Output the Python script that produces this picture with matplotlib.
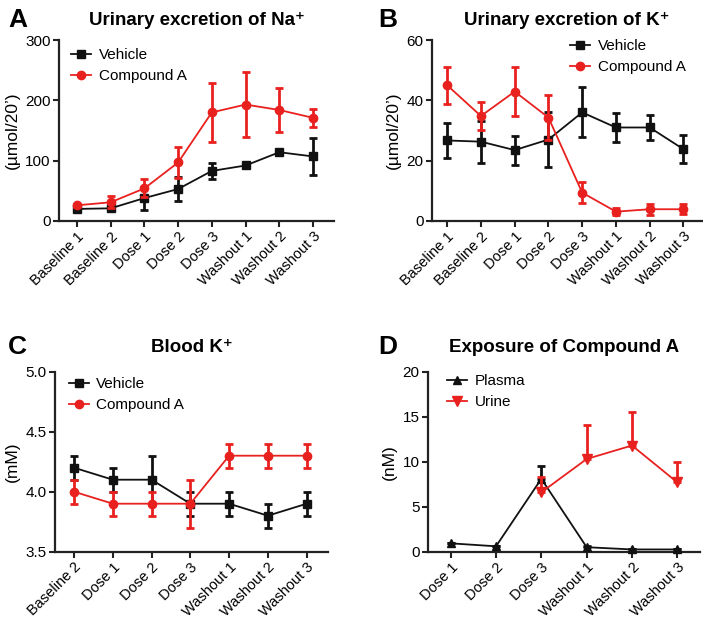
import numpy as np
import matplotlib
matplotlib.use("Agg")
import matplotlib.pyplot as plt
from matplotlib.lines import Line2D

plt.rcParams['font.family'] = ['Liberation Sans', 'DejaVu Sans']

# ---- data ----
cats_ab = ["Baseline 1", "Baseline 2", "Dose 1", "Dose 2", "Dose 3",
           "Washout 1", "Washout 2", "Washout 3"]
cats_c = ["Baseline 2", "Dose 1", "Dose 2", "Dose 3",
          "Washout 1", "Washout 2", "Washout 3"]
cats_d = ["Dose 1", "Dose 2", "Dose 3", "Washout 1", "Washout 2", "Washout 3"]

na_vehicle = [20, 21, 38, 53, 83, 92, 114, 107]
na_vehicle_err = [3, 3, 19, 20, 13, 4, 5, 30]
na_compound = [26, 31, 54, 97, 180, 193, 184, 171]
na_compound_err = [3, 10, 15, 26, 49, 54, 37, 15]

k_vehicle = [26.7, 26.3, 23.5, 27.0, 36.0, 31.0, 31.0, 23.8]
k_vehicle_err = [5.7, 7.0, 4.8, 9.0, 8.3, 4.8, 4.2, 4.6]
k_compound = [45.0, 34.8, 42.9, 34.3, 9.4, 3.1, 3.9, 3.9]
k_compound_err = [6.2, 4.5, 8.2, 7.6, 3.5, 1.1, 1.9, 1.7]

bk_vehicle = [4.2, 4.1, 4.1, 3.9, 3.9, 3.8, 3.9]
bk_vehicle_err = [0.1, 0.1, 0.2, 0.1, 0.1, 0.1, 0.1]
bk_compound = [4.0, 3.9, 3.9, 3.9, 4.3, 4.3, 4.3]
bk_compound_err = [0.1, 0.1, 0.1, 0.2, 0.1, 0.1, 0.1]

plasma = [0.93, 0.6, 8.1, 0.5, 0.25, 0.25]
plasma_err = [0.0, 0.0, 1.4, 0.15, 0.0, 0.0]
urine = [np.nan, np.nan, 6.6, 10.3, 11.8, 7.7]
urine_err = [np.nan, np.nan, 1.7, 3.8, 3.7, 2.3]

RED = '#e8211f'
BLACK = '#111111'
H = 621.0
W = 703.0

fig = plt.figure(figsize=(7.03, 6.21), dpi=100)

def style(ax, cats, xlim, ylim, yticks, yticklabels, ylabel):
    ax.set_xlim(*xlim)
    ax.set_ylim(*ylim)
    ax.set_yticks(yticks)
    ax.set_yticklabels(yticklabels, fontsize=11)
    ax.set_xticks(range(len(cats)))
    ax.set_xticklabels(cats, rotation=45, ha='right', rotation_mode='anchor',
                       fontsize=10.5)
    for s in ['top', 'right']:
        ax.spines[s].set_visible(False)
    for s in ['left', 'bottom']:
        ax.spines[s].set_linewidth(1.6)
        ax.spines[s].set_color('#222222')
    ax.tick_params(width=1.5, length=4, color='#222222', pad=2)
    ax.set_ylabel(ylabel, fontsize=12.5, labelpad=4)

def eb(ax, x, y, e, color, marker, ms, z, upper_only=False):
    if upper_only:
        e = np.asarray(e, dtype=float)
        yerr = [np.zeros_like(e), e]
    else:
        yerr = e
    ax.errorbar(x, y, yerr=yerr, color=color, marker=marker, ms=ms, lw=1.3,
                elinewidth=2.0, capsize=3, capthick=2.0, zorder=z,
                clip_on=False)

def legend(ax, entries, loc, anchor):
    handles = [Line2D([], [], color=c, marker=m, ms=ms, lw=1.3, label=l)
               for (l, c, m, ms) in entries]
    ax.legend(handles=handles, loc=loc, bbox_to_anchor=anchor, frameon=False,
              fontsize=11, handlelength=1.3, handletextpad=0.5,
              borderpad=0, borderaxespad=0, labelspacing=0.45)

def title(ax, text, letter, letter_x, base_px):
    pos = ax.get_position()
    cx = (pos.x0 + pos.x1) / 2
    fig.text(cx, 1 - base_px / H, text, fontsize=13.5, fontweight='bold',
             ha='center', va='baseline')
    fig.text(letter_x / W, 1 - (base_px + 2) / H, letter, fontsize=19,
             fontweight='bold', ha='left', va='baseline')

veh_comp = [('Vehicle', BLACK, 's', 6), ('Compound A', RED, 'o', 6)]

# ---- Panel A ----
axA = fig.add_axes([59 / W, 1 - 221 / H, 275 / W, 181 / H])
x = np.arange(len(cats_ab))
eb(axA, x, na_vehicle, na_vehicle_err, BLACK, 's', 6, 3)
eb(axA, x, na_compound, na_compound_err, RED, 'o', 6, 4)
style(axA, cats_ab, (-0.53, 7.62), (0, 300), [0, 100, 200, 300],
      ['0', '100', '200', '300'], "(µmol/20’)")
legend(axA, veh_comp, 'upper left', (0.045, 0.955))
title(axA, "Urinary excretion of Na⁺", "A", 8, 25)

# ---- Panel B ----
axB = fig.add_axes([432 / W, 1 - 221 / H, 270 / W, 181 / H])
eb(axB, x, k_vehicle, k_vehicle_err, BLACK, 's', 6, 3)
eb(axB, x, k_compound, k_compound_err, RED, 'o', 6, 4)
style(axB, cats_ab, (-0.45, 7.55), (0, 60), [0, 20, 40, 60],
      ['0', '20', '40', '60'], "(µmol/20’)")
legend(axB, veh_comp, 'upper right', (0.94, 1.005))
title(axB, "Urinary excretion of K⁺", "B", 378, 25)

# ---- Panel C ----
axC = fig.add_axes([55 / W, 1 - 551.7 / H, 273 / W, 180 / H])
xc = np.arange(len(cats_c))
eb(axC, xc, bk_vehicle, bk_vehicle_err, BLACK, 's', 6, 3)
eb(axC, xc, bk_compound, bk_compound_err, RED, 'o', 6, 4)
style(axC, cats_c, (-0.49, 6.55), (3.5, 5.0), [3.5, 4.0, 4.5, 5.0],
      ['3.5', '4.0', '4.5', '5.0'], "(mM)")
legend(axC, veh_comp, 'upper left', (0.05, 0.97))
title(axC, "Blood K⁺", "C", 8, 351.7)

# ---- Panel D ----
axD = fig.add_axes([428 / W, 1 - 551.7 / H, 272 / W, 180 / H])
xd = np.arange(len(cats_d))
eb(axD, xd, plasma, plasma_err, BLACK, '^', 6, 3, upper_only=True)
eb(axD, xd, urine, urine_err, RED, 'v', 7, 4, upper_only=True)
style(axD, cats_d, (-0.5, 5.5), (0, 20), [0, 5, 10, 15, 20],
      ['0', '5', '10', '15', '20'], "(nM)")
legend(axD, [('Plasma', BLACK, '^', 6), ('Urine', RED, 'v', 7)],
       'upper left', (0.07, 0.985))
title(axD, "Exposure of Compound A", "D", 378, 351.7)

fig.savefig("out.png", dpi=100)
